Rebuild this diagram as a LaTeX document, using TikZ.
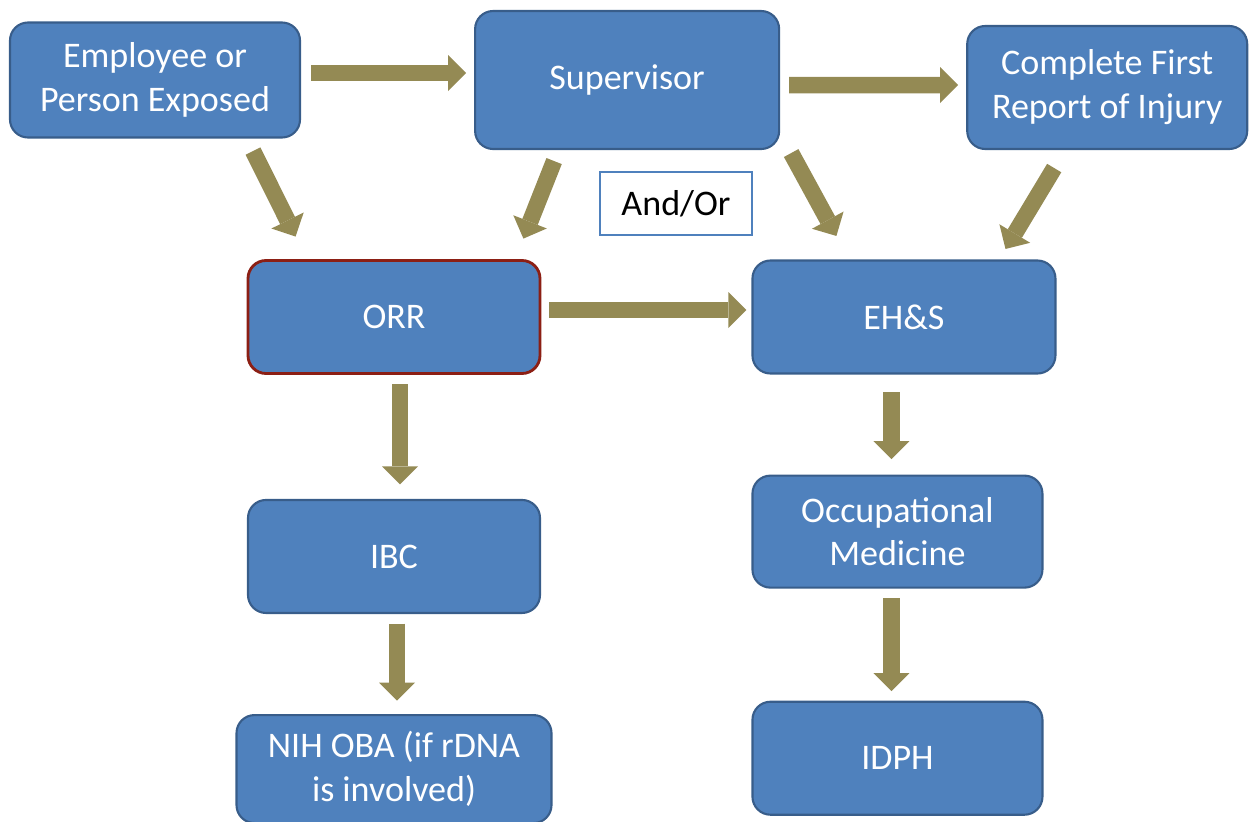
\documentclass[tikz,border=0pt]{standalone}
\usepackage{fontspec}
\setmainfont{Carlito}
\usetikzlibrary{arrows.meta,positioning}
\definecolor{boxblue}{HTML}{4F81BD}
\definecolor{boxedge}{HTML}{385D8A}
\definecolor{orredge}{HTML}{8C1F14}
\definecolor{flowolive}{HTML}{948A54}

\begin{document}
\begin{tikzpicture}[>={Triangle[length=0.36cm,width=0.72cm,line width=0pt]}, node distance=2cm]
        \tikzset{unit/.style={rectangle, draw=boxedge, line width=1.2pt, rounded corners=0.36cm, fill=boxblue, text=white, align=center, minimum width=5.84cm, minimum height=2.26cm, font=\fontsize{20.5}{25}\selectfont},
                 flow/.style={->, draw=flowolive, line width=0.33cm},
                 note/.style={rectangle, draw=boxblue, line width=1.5pt, fill=white, align=center, minimum width=3.04cm, minimum height=1.26cm, font=\fontsize{20.5}{25}\selectfont}}
        \useasboundingbox (0,0) rectangle (25.06,-16.42);
        \node[unit, minimum width=5.8cm, minimum height=2.3cm] (emp) at (3.10,-1.60) {Employee or\\Person Exposed};
        \node[unit, minimum width=6.08cm, minimum height=2.76cm, right=3.46cm of emp] (sup) {Supervisor};
        \node[unit, minimum width=5.6cm, minimum height=2.46cm, right=3.72cm of sup, yshift=-0.15cm] (report) {Complete First\\Report of Injury};
        \node[unit, draw=orredge, line width=1.6pt] (orr) at (7.88,-6.34) {ORR};
        \node[unit, minimum width=6.06cm, right=4.20cm of orr] (ehs) {EH\&S};
        \node[unit, below=2.48cm of orr] (ibc) {IBC};
        \node[unit, minimum width=6.3cm, minimum height=2.16cm, below=2.00cm of ibc] (nih) {NIH OBA (if rDNA\\is involved)};
        \node[unit, minimum width=5.8cm, minimum height=2.24cm, below=2.00cm of ehs, xshift=-0.13cm] (occmed) {Occupational\\Medicine};
        \node[unit, minimum width=5.8cm, below=2.24cm of occmed] (idph) {IDPH};
        \node[note] (andor) at (13.52,-4.07) {And/Or};
        \draw[flow] ([shift={(0.20,0.14)}]emp.east) -- ([shift={(-0.16,0.14)}]sup.west);
        \draw[flow] ([shift={(0.18,-0.10)}]sup.east) -- ([shift={(-0.16,0.05)}]report.west);
        \draw[flow] ([shift={(1.96,-0.25)}]emp.south) -- ([shift={(0.98,0.45)}]orr.north west);
        \draw[flow] ([shift={(-1.46,-0.22)}]sup.south) -- ([shift={(-0.36,0.41)}]orr.north east);
        \draw[flow] ([shift={(0.22,-0.06)}]sup.south east) -- ([shift={(1.70,0.47)}]ehs.north west);
        \draw[flow] ([shift={(-1.06,-0.36)}]report.south) -- ([shift={(-1.02,0.21)}]ehs.north east);
        \draw[flow] ([shift={(0.16,0.14)}]orr.east) -- ([shift={(-0.10,0.14)}]ehs.west);
        \draw[flow] ([shift={(0.12,-0.19)}]orr.south) -- ([shift={(0.12,0.29)}]ibc.north);
        \draw[flow] ([shift={(0.06,-0.19)}]ibc.south) -- ([shift={(0.06,0.27)}]nih.north);
        \draw[flow] ([shift={(-0.25,-0.35)}]ehs.south) -- ([shift={(-0.12,0.31)}]occmed.north);
        \draw[flow] ([shift={(-0.12,-0.19)}]occmed.south) -- ([shift={(-0.12,0.19)}]idph.north);
    \end{tikzpicture}
\end{document}
